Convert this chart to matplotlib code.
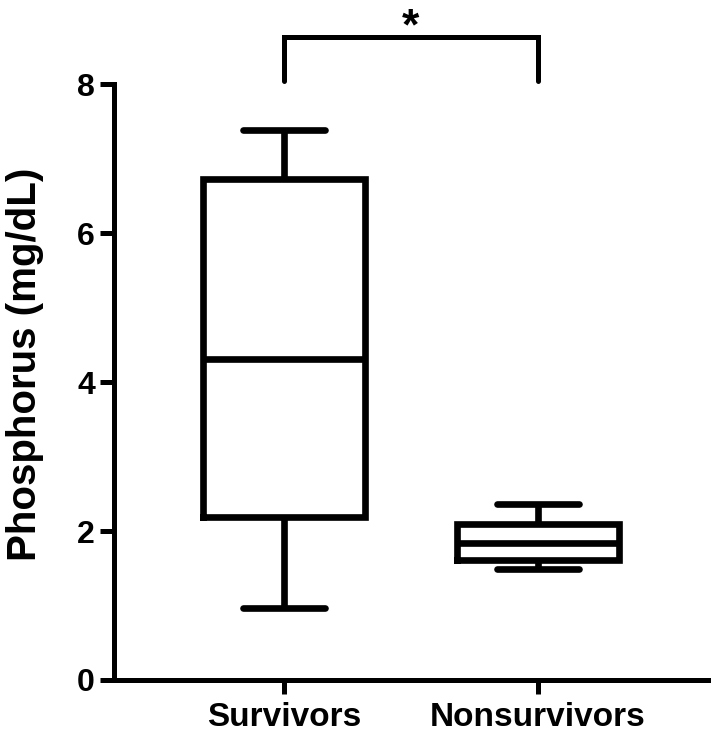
import matplotlib
matplotlib.use("Agg")
import matplotlib.pyplot as plt

plt.rcParams['font.family'] = ['Liberation Sans', 'DejaVu Sans']
plt.rcParams['font.weight'] = 'bold'

categories = ["Survivors", "Nonsurvivors"]
whislo = [0.96, 1.49]
q1 = [2.19, 1.61]
med = [4.31, 1.84]
q3 = [6.73, 2.09]
whishi = [7.38, 2.36]
yticks = [0, 2, 4, 6, 8]
sig_label = "*"

fig = plt.figure(figsize=(7.11, 7.34), dpi=100)
ax = fig.add_axes([0.161, 0.0736, 0.836, 0.8116])

stats = [dict(label=c, whislo=a, q1=b, med=m, q3=d, whishi=e, fliers=[])
         for c, a, b, m, d, e in zip(categories, whislo, q1, med, q3, whishi)]

lw = 4.8
ax.bxp(stats, positions=[1, 2], widths=0.635, capwidths=0.32, showfliers=False,
       boxprops=dict(color='black', linewidth=lw, solid_joinstyle='miter'),
       medianprops=dict(color='black', linewidth=lw, solid_capstyle='butt'),
       whiskerprops=dict(color='black', linewidth=lw, solid_capstyle='butt'),
       capprops=dict(color='black', linewidth=lw, solid_capstyle='round'))

ax.set_xlim(0.333, 2.673)
ax.set_ylim(0, 8)
ax.set_yticks(yticks)
ax.set_yticklabels([str(t) for t in yticks])
ax.set_xticks([1, 2])
ax.set_xticklabels(categories)

for s in ['top', 'right']:
    ax.spines[s].set_visible(False)
for s in ['left', 'bottom']:
    ax.spines[s].set_linewidth(3.6)
ax.tick_params(axis='y', length=10, width=3.6, labelsize=23, pad=4)
ax.tick_params(axis='x', length=10, width=3.6, labelsize=24, pad=6)
for lab in ax.get_xticklabels() + ax.get_yticklabels():
    lab.set_fontweight('bold')

# significance bracket
yb, yt = 8.05, 8.64
ax.plot([1, 1, 2, 2], [yb, yt, yt, yb], color='black', linewidth=3.6,
        clip_on=False, solid_capstyle='round', solid_joinstyle='miter')
ax.text(1.5, 8.6, sig_label, ha='center', va='baseline', fontsize=32,
        fontweight='bold', clip_on=False)

fig.text(25 / 711, 1 - 364 / 734, "Phosphorus (mg/dL)", rotation=90,
         ha='center', va='center', fontsize=29, fontweight='bold')

fig.savefig("out.png", dpi=100)
